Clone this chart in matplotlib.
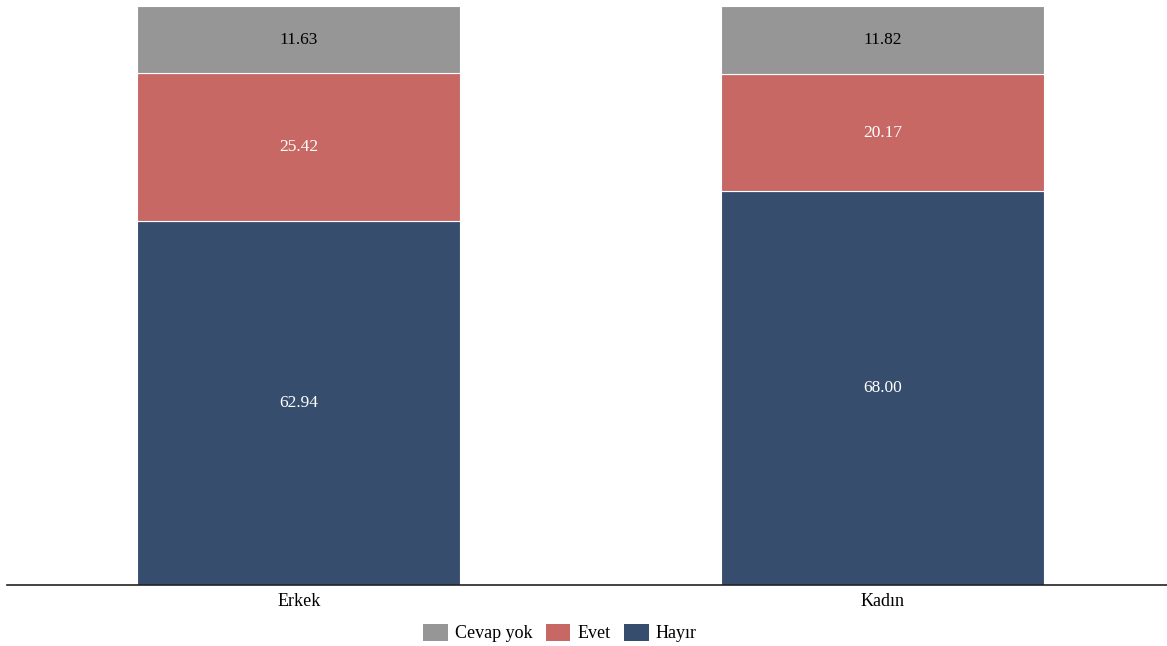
import matplotlib
matplotlib.use("Agg")
import matplotlib.pyplot as plt
from matplotlib.patches import Patch

categories = ["Erkek", "Kadın"]
hayir = [62.94, 68.00]
evet = [25.42, 20.17]
cevap_yok = [11.63, 11.82]

series = [("Hayır", hayir, "#374d6d", "white"),
          ("Evet", evet, "#c76864", "white"),
          ("Cevap yok", cevap_yok, "#969696", "black")]

plt.rcParams['font.family'] = ['Liberation Serif', 'DejaVu Serif']

W, H = 1167, 646
fig = plt.figure(figsize=(W / 100, H / 100), dpi=100)
ax = fig.add_axes([7 / W, (H - 585) / H, 1160 / W, (585 - 6) / H])

x = list(range(len(categories)))
bottom = [0.0] * len(categories)
for name, vals, color, tcolor in series:
    ax.bar(x, vals, width=0.553, bottom=bottom, color=color,
           edgecolor="white", linewidth=0.8)
    for xi, v, b in zip(x, vals, bottom):
        ax.text(xi, b + v / 2, f"{v:.2f}", ha="center", va="center",
                color=tcolor, fontsize=12.5)
    bottom = [b + v for b, v in zip(bottom, vals)]

ax.set_xlim(-0.5, 1.487)
ax.set_ylim(0, 99.99)
ax.set_xticks(x)
ax.set_xticklabels(categories, fontsize=13)
ax.tick_params(axis="x", length=0, pad=6)
ax.set_yticks([])
for s in ["top", "right", "left"]:
    ax.spines[s].set_visible(False)
ax.spines["bottom"].set_color("#222222")
ax.spines["bottom"].set_linewidth(1.2)

handles = [Patch(facecolor="#969696", label="Cevap yok"),
           Patch(facecolor="#c76864", label="Evet"),
           Patch(facecolor="#374d6d", label="Hayır")]
fig.legend(handles=handles, loc="center", bbox_to_anchor=(560 / W, 1 - 633 / H),
           ncol=3, frameon=False, fontsize=13, handlelength=1.35, handleheight=1.1,
           handletextpad=0.4, columnspacing=0.75)

fig.savefig("out.png", dpi=100)
